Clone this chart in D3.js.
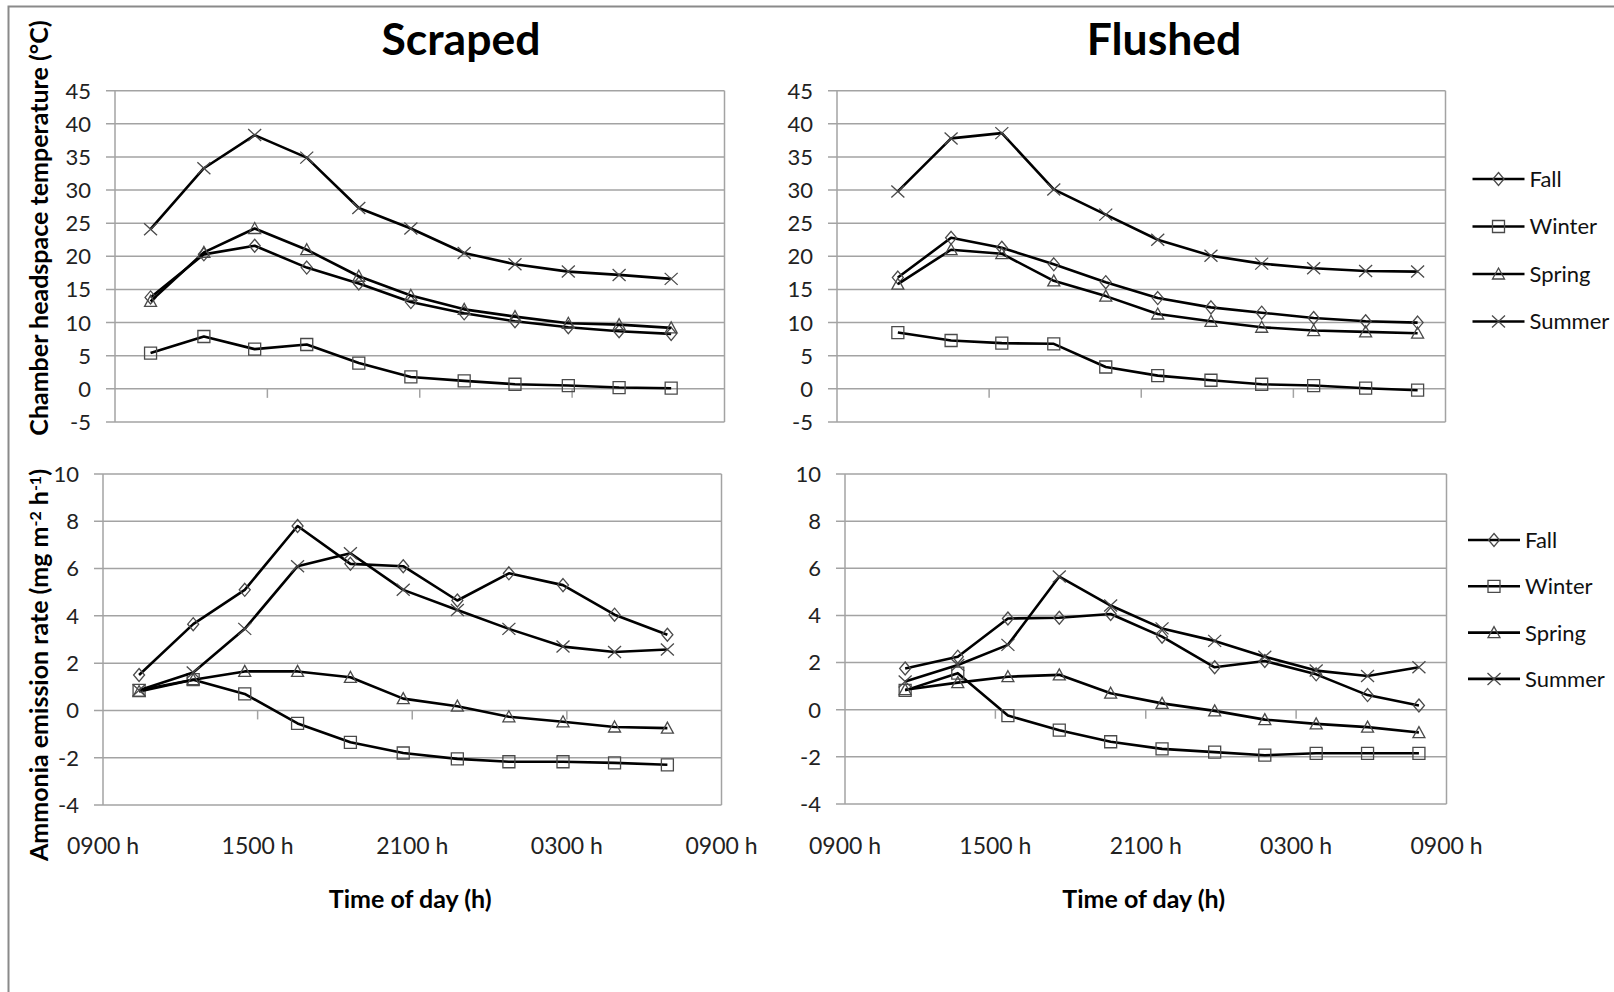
<!DOCTYPE html>
<html>
<head>
<meta charset="utf-8">
<script src="https://cdn.jsdelivr.net/npm/d3@7/dist/d3.min.js"></script>
<style>
  body { margin: 0; background: #fff; }
  svg { display: block; font-family: Lato, 'Open Sans', sans-serif; }
</style>
</head>
<body>
<svg id="chart" width="1614" height="992"></svg>
<script>
'use strict';

// hours after 0900 h at which each sample was taken
const HOURS_SCRAPED = [1.4, 3.5, 5.5, 7.55, 9.6, 11.65, 13.75, 15.75, 17.85, 19.85, 21.9]
const HOURS_FLUSHED = [2.4, 4.5, 6.5, 8.55, 10.6, 12.65, 14.75, 16.75, 18.8, 20.85, 22.9]

const SEASONS = ['Fall', 'Winter', 'Spring', 'Summer']
const X_TICK_HOURS = [0, 6, 12, 18, 24]
const X_TICK_LABELS = ['0900 h', '1500 h', '2100 h', '0300 h', '0900 h']

const TEMP_TICKS = [-5, 0, 5, 10, 15, 20, 25, 30, 35, 40, 45]
const TEMP_TICK_LABELS = ['-5', '0', '5', '10', '15', '20', '25', '30', '35', '40', '45']
const NH3_TICKS = [-4, -2, 0, 2, 4, 6, 8, 10]
const NH3_TICK_LABELS = ['-4', '-2', '0', '2', '4', '6', '8', '10']

// chamber headspace temperature (°C)
const tempScrapedFall   = [13.8, 20.3, 21.6, 18.3, 15.9, 13.1, 11.4, 10.2, 9.3, 8.7, 8.3]
const tempScrapedWinter = [5.4, 7.9, 6.0, 6.7, 3.9, 1.8, 1.2, 0.7, 0.5, 0.2, 0.1]
const tempScrapedSpring = [13.2, 20.6, 24.2, 21.0, 17.0, 14.1, 12.0, 10.9, 9.9, 9.7, 9.2]
const tempScrapedSummer = [24.1, 33.3, 38.3, 34.9, 27.3, 24.2, 20.5, 18.8, 17.7, 17.2, 16.6]

const tempFlushedFall   = [16.8, 22.8, 21.3, 18.8, 16.1, 13.7, 12.3, 11.5, 10.7, 10.2, 10.0]
const tempFlushedWinter = [8.5, 7.3, 6.9, 6.8, 3.3, 2.0, 1.3, 0.7, 0.5, 0.1, -0.2]
const tempFlushedSpring = [15.8, 21.0, 20.4, 16.3, 14.0, 11.3, 10.2, 9.3, 8.8, 8.6, 8.4]
const tempFlushedSummer = [29.8, 37.8, 38.6, 30.1, 26.3, 22.5, 20.1, 18.9, 18.2, 17.8, 17.7]

// ammonia emission rate (mg m-2 h-1)
const nh3ScrapedFall   = [1.5, 3.65, 5.1, 7.8, 6.2, 6.1, 4.65, 5.8, 5.3, 4.05, 3.2]
const nh3ScrapedWinter = [0.85, 1.3, 0.7, -0.55, -1.35, -1.8, -2.05, -2.17, -2.17, -2.22, -2.3]
const nh3ScrapedSpring = [0.8, 1.3, 1.65, 1.65, 1.4, 0.5, 0.18, -0.27, -0.48, -0.7, -0.75]
const nh3ScrapedSummer = [0.85, 1.6, 3.45, 6.1, 6.65, 5.1, 4.25, 3.45, 2.7, 2.47, 2.58]

const nh3FlushedFall   = [1.75, 2.25, 3.87, 3.9, 4.06, 3.1, 1.8, 2.07, 1.5, 0.62, 0.18]
const nh3FlushedWinter = [0.82, 1.55, -0.25, -0.87, -1.36, -1.66, -1.8, -1.93, -1.85, -1.85, -1.85]
const nh3FlushedSpring = [0.85, 1.15, 1.4, 1.48, 0.7, 0.27, -0.05, -0.42, -0.6, -0.74, -0.97]
const nh3FlushedSummer = [1.2, 1.9, 2.75, 5.65, 4.42, 3.45, 2.92, 2.25, 1.66, 1.43, 1.8]

const svg = d3.select('#chart')

const GRID = '#a3a3a3'
const INK = '#000'

const PANELS = [
  { box: [115, 724.5, 90.7, 422], domain: [-5, 45], ticks: TEMP_TICKS, tickLabels: TEMP_TICK_LABELS,
    hours: HOURS_SCRAPED, series: [tempScrapedFall, tempScrapedWinter, tempScrapedSpring, tempScrapedSummer], xLabels: false },
  { box: [837, 1445.5, 90.7, 422], domain: [-5, 45], ticks: TEMP_TICKS, tickLabels: TEMP_TICK_LABELS,
    hours: HOURS_FLUSHED, series: [tempFlushedFall, tempFlushedWinter, tempFlushedSpring, tempFlushedSummer], xLabels: false,
    legend: { x: 1472.5, y: 179, step: 47.5 } },
  { box: [103, 721.5, 474, 805], domain: [-4, 10], ticks: NH3_TICKS, tickLabels: NH3_TICK_LABELS,
    hours: HOURS_SCRAPED, series: [nh3ScrapedFall, nh3ScrapedWinter, nh3ScrapedSpring, nh3ScrapedSummer], xLabels: true },
  { box: [845, 1446.5, 474, 804], domain: [-4, 10], ticks: NH3_TICKS, tickLabels: NH3_TICK_LABELS,
    hours: HOURS_FLUSHED, series: [nh3FlushedFall, nh3FlushedWinter, nh3FlushedSpring, nh3FlushedSummer], xLabels: true,
    legend: { x: 1468, y: 540, step: 46.3 } },
]

// marker outlines, drawn hollow like the Excel markers
const MARKERS = {
  Fall: 'M0,-6.5L5.5,0L0,6.5L-5.5,0Z',
  Winter: 'M-6,-6H6V6H-6Z',
  Spring: 'M0,-6L6,5H-6Z',
  Summer: 'M-6.5,-6L6.5,6M-6.5,6L6.5,-6',
}

const drawMarker = (g, season, x, y) => {
  g.append('path')
    .attr('d', MARKERS[season])
    .attr('transform', 'translate(' + x + ',' + y + ')')
    .attr('fill', 'none')
    .attr('stroke', '#4a4a4a')
    .attr('stroke-width', 1.3)
}

const drawPanel = p => {
  const [l, r, t, b] = p.box
  const x = d3.scaleLinear().domain([0, 24]).range([l, r])
  const y = d3.scaleLinear().domain(p.domain).range([b, t])
  const g = svg.append('g')

  // horizontal grid + left tick marks
  g.selectAll('.grid').data(p.ticks).enter().append('line')
    .attr('x1', l - 9).attr('x2', r)
    .attr('y1', d => y(d)).attr('y2', d => y(d))
    .attr('stroke', GRID).attr('stroke-width', 1.5)

  g.append('line').attr('x1', l).attr('x2', l).attr('y1', t).attr('y2', b)
    .attr('stroke', GRID).attr('stroke-width', 1.5)
  g.append('line').attr('x1', r).attr('x2', r).attr('y1', t).attr('y2', b)
    .attr('stroke', GRID).attr('stroke-width', 1.5)

  // category ticks hang off the zero line
  g.selectAll('.xt').data(X_TICK_HOURS.slice(1, -1)).enter().append('line')
    .attr('x1', d => x(d)).attr('x2', d => x(d))
    .attr('y1', y(0)).attr('y2', y(0) + 9)
    .attr('stroke', GRID).attr('stroke-width', 1.5)

  g.selectAll('.yl').data(p.ticks).enter().append('text')
    .attr('x', l - 24).attr('y', d => y(d)).attr('dy', '0.36em')
    .attr('text-anchor', 'end')
    .attr('font-size', 22).attr('fill', '#222')
    .text((d, i) => p.tickLabels[i])

  if (p.xLabels) {
    g.selectAll('.xl').data(X_TICK_HOURS).enter().append('text')
      .attr('x', d => x(d)).attr('y', 846).attr('dy', '0.36em')
      .attr('text-anchor', 'middle')
      .attr('font-size', 23).attr('fill', '#222')
      .text((d, i) => X_TICK_LABELS[i])
    g.append('text')
      .attr('x', (l + r) / 2 - 2).attr('y', 899).attr('dy', '0.36em')
      .attr('text-anchor', 'middle')
      .attr('font-size', 25).attr('font-weight', 'bold').attr('fill', INK)
      .text('Time of day (h)')
  }

  const line = d3.line().x((d, i) => x(p.hours[i])).y(d => y(d))
  p.series.forEach((vals, si) => {
    g.append('path').attr('d', line(vals))
      .attr('fill', 'none').attr('stroke', INK)
      .attr('stroke-width', 2.6).attr('stroke-linejoin', 'round')
    vals.forEach((v, i) => drawMarker(g, SEASONS[si], x(p.hours[i]), y(v)))
  })

  if (p.legend) {
    SEASONS.forEach((s, i) => {
      const ly = p.legend.y + i * p.legend.step
      g.append('line').attr('x1', p.legend.x).attr('x2', p.legend.x + 52)
        .attr('y1', ly).attr('y2', ly)
        .attr('stroke', INK).attr('stroke-width', 2.6)
      drawMarker(g, s, p.legend.x + 26, ly)
      g.append('text').attr('x', p.legend.x + 57).attr('y', ly).attr('dy', '0.36em')
        .attr('font-size', 22).attr('fill', '#111')
        .text(s)
    })
  }
}

// outer frame (only top and left edges show)
svg.append('path').attr('d', 'M8.5,992V6.5H1614')
  .attr('fill', 'none').attr('stroke', '#8a8a8a').attr('stroke-width', 2)

PANELS.forEach(drawPanel)

svg.append('text').attr('x', 461).attr('y', 55).attr('text-anchor', 'middle')
  .attr('font-size', 44.5).attr('font-weight', 'bold').text('Scraped')
svg.append('text').attr('x', 1164).attr('y', 55).attr('text-anchor', 'middle')
  .attr('font-size', 44.5).attr('font-weight', 'bold').text('Flushed')

svg.append('text')
  .attr('transform', 'translate(39,228) rotate(-90)')
  .attr('dy', '0.36em').attr('text-anchor', 'middle')
  .attr('font-size', 25).attr('font-weight', 'bold')
  .text('Chamber headspace temperature (°C)')

const nh3Title = svg.append('text')
  .attr('transform', 'translate(39,665) rotate(-90)')
  .attr('dy', '0.36em').attr('text-anchor', 'middle')
  .attr('font-size', 25).attr('font-weight', 'bold')
nh3Title.append('tspan').text('Ammonia emission rate (mg m')
nh3Title.append('tspan').attr('font-size', 16).attr('baseline-shift', '45%').text('-2')
nh3Title.append('tspan').text(' h')
nh3Title.append('tspan').attr('font-size', 16).attr('baseline-shift', '45%').text('-1')
nh3Title.append('tspan').text(')')
</script>
</body>
</html>
